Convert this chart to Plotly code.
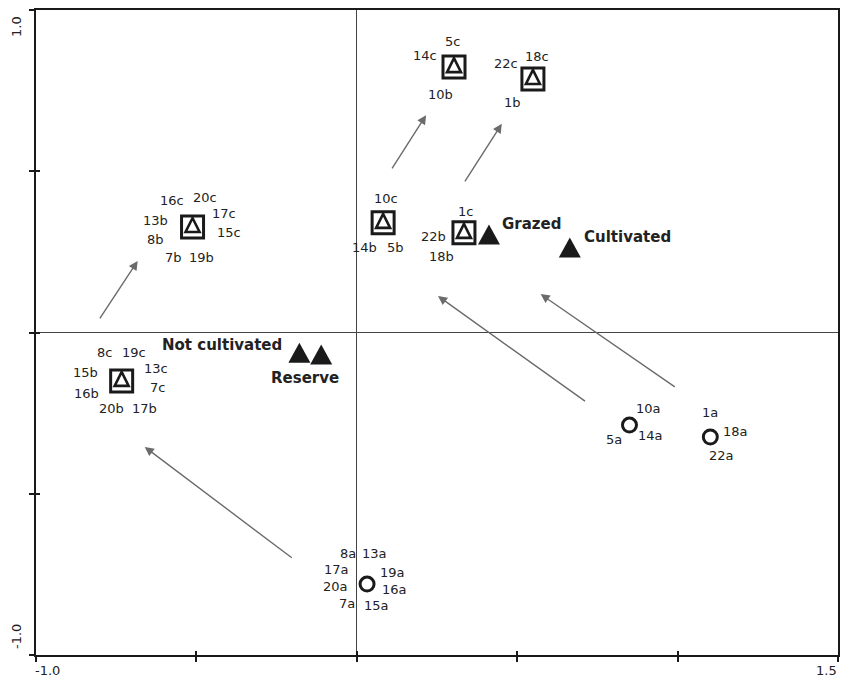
import plotly.graph_objects as go

# Site centroids (axis 1, axis 2) for the three sampling periods
sq_x = [0.303, 0.549, 0.082, 0.334, -0.512, -0.733]
sq_y = [0.823, 0.786, 0.340, 0.309, 0.327, -0.150]
sq_labels = [
    ["5c", "14c", "10b"],
    ["22c", "18c", "1b"],
    ["10c", "14b", "5b"],
    ["1c", "22b", "18b"],
    ["16c", "20c", "17c", "15c", "13b", "8b", "7b", "19b"],
    ["8c", "19c", "13c", "7c", "15b", "16b", "20b", "17b"],
]

circ_x = [0.850, 1.102, 0.032]
circ_y = [-0.287, -0.324, -0.780]
circ_labels = [
    ["10a", "14a", "5a"],
    ["1a", "18a", "22a"],
    ["8a", "13a", "17a", "20a", "7a", "19a", "16a", "15a"],
]

# Management factors
fac_names = ["Grazed", "Cultivated", "Not cultivated", "Reserve"]
fac_x = [0.412, 0.664, -0.179, -0.111]
fac_y = [0.302, 0.262, -0.064, -0.070]

# Trajectory arrows (tail -> head)
arr_x0 = [0.107, 0.334, -0.804, 0.716, 0.996, -0.198]
arr_y0 = [0.504, 0.464, 0.039, -0.216, -0.172, -0.702]
arr_x1 = [0.216, 0.452, -0.683, 0.253, 0.573, -0.661]
arr_y1 = [0.674, 0.647, 0.222, 0.113, 0.119, -0.355]

x_ticks = [-1.0, -0.5, 0.0, 0.5, 1.0, 1.5]
y_ticks = [-1.0, -0.5, 0.0, 0.5, 1.0]

# Pixel offsets of the site labels around each symbol
sq_offsets = [
    [(-2, 26), (-29, 12), (-14, -27)],
    [(-27, 16), (4, 23), (-20, -23)],
    [(3, 24), (-19, -25), (12, -25)],
    [(2, 21), (-30, -4), (-22, -24)],
    [(-21, 27), (12, 30), (31, 14), (36, -5), (-37, 7), (-37, -12), (-19, -30), (9, -30)],
    [(-17, 28), (12, 28), (34, 12), (36, -7), (-36, 8), (-35, -13), (-10, -28), (23, -28)],
]
circ_offsets = [
    [(19, 17), (21, -10), (-15, -14)],
    [(0, 24), (25, 5), (11, -19)],
    [(-19, 31), (7, 31), (-31, 15), (-32, -2), (-20, -19), (25, 12), (27, -5), (9, -21)],
]
fac_offsets = [(43, 11), (58, 11), (-77, 8), (-16, -23)]

FONT = "DejaVu Sans, Arial, sans-serif"
INK = "#1a1a1a"
TXT = "#222222"

# Triangle outlines in pixels around an anchor point (y up)
FILLED_TRI = "M-11,-9.5 L11,-9.5 L0,10.5 Z"
OPEN_TRI = "M-7,-5 L7,-5 L0,9 Z"

fig = go.Figure()

fig.add_trace(go.Scatter(
    x=sq_x, y=sq_y, mode="markers", hoverinfo="skip",
    marker=dict(symbol="square-open", size=22, color=INK, line=dict(width=3, color=INK)),
))
fig.add_trace(go.Scatter(
    x=circ_x, y=circ_y, mode="markers", hoverinfo="skip",
    marker=dict(symbol="circle-open", size=14, color=INK, line=dict(width=3, color=INK)),
))
# Empty trace that carries the overlaid axes used for the inner tick marks
fig.add_trace(go.Scatter(x=[], y=[], xaxis="x2", yaxis="y2", hoverinfo="skip"))

shapes = []
for x, y in zip(sq_x, sq_y):
    shapes.append(dict(
        type="path", xref="x", yref="y", xsizemode="pixel", ysizemode="pixel",
        xanchor=x, yanchor=y, path=OPEN_TRI, line=dict(color=INK, width=2.6),
        fillcolor="rgba(0,0,0,0)",
    ))
for x, y in zip(fac_x, fac_y):
    shapes.append(dict(
        type="path", xref="x", yref="y", xsizemode="pixel", ysizemode="pixel",
        xanchor=x, yanchor=y, path=FILLED_TRI, line=dict(width=0),
        fillcolor=INK,
    ))

annotations = []

for x0, y0, x1, y1 in zip(arr_x0, arr_y0, arr_x1, arr_y1):
    annotations.append(dict(
        x=x1, y=y1, ax=x0, ay=y0, xref="x", yref="y", axref="x", ayref="y",
        text="", showarrow=True, arrowhead=2, arrowsize=1.3, arrowwidth=1.4,
        arrowcolor="#6b6b6b", standoff=0,
    ))


def site_labels(xs, ys, groups, offsets):
    for x, y, names, offs in zip(xs, ys, groups, offsets):
        for name, (dx, dy) in zip(names, offs):
            annotations.append(dict(
                x=x, y=y, xref="x", yref="y", text=name, showarrow=False,
                xshift=dx, yshift=dy, font=dict(family=FONT, size=13, color=TXT),
            ))


site_labels(sq_x, sq_y, sq_labels, sq_offsets)
site_labels(circ_x, circ_y, circ_labels, circ_offsets)

for name, x, y, (dx, dy) in zip(fac_names, fac_x, fac_y, fac_offsets):
    annotations.append(dict(
        x=x, y=y, xref="x", yref="y", text="<b>%s</b>" % name, showarrow=False,
        xshift=dx, yshift=dy, font=dict(family=FONT, size=15, color=TXT),
    ))

# End-of-axis tick labels
tick_font = dict(family=FONT, size=13, color=TXT)
annotations += [
    dict(x=x_ticks[0], y=0, xref="x", yref="paper", text="%.1f" % x_ticks[0], showarrow=False,
         xanchor="left", yanchor="top", xshift=-3, yshift=-6, font=tick_font),
    dict(x=x_ticks[-1], y=0, xref="x", yref="paper", text="%.1f" % x_ticks[-1], showarrow=False,
         xanchor="right", yanchor="top", xshift=1, yshift=-6, font=tick_font),
    dict(x=0, y=y_ticks[-1], xref="paper", yref="y", text="%.1f" % y_ticks[-1], showarrow=False,
         textangle=-90, xanchor="right", yanchor="top", xshift=-10, yshift=-4, font=tick_font),
    dict(x=0, y=y_ticks[0], xref="paper", yref="y", text="%.1f" % y_ticks[0], showarrow=False,
         textangle=-90, xanchor="right", yanchor="bottom", xshift=-10, yshift=4, font=tick_font),
]

axis_common = dict(
    showgrid=False, zeroline=True, zerolinecolor="#444444", zerolinewidth=1.2,
    showline=True, linecolor=INK, linewidth=2, mirror=True,
    ticks="outside", ticklen=5, tickwidth=1.5, tickcolor=INK,
    showticklabels=False, fixedrange=True,
)
inner_ticks = dict(
    showgrid=False, zeroline=False, showline=False, showticklabels=False,
    ticks="inside", ticklen=4, tickwidth=1.5, tickcolor=INK, fixedrange=True,
)

fig.update_layout(
    width=841, height=678,
    margin=dict(l=36, r=1, t=10, b=23),
    paper_bgcolor="white", plot_bgcolor="white",
    showlegend=False,
    xaxis=dict(range=[x_ticks[0], x_ticks[-1]], tickvals=x_ticks, **axis_common),
    yaxis=dict(range=[y_ticks[0], y_ticks[-1]], tickvals=y_ticks, **axis_common),
    xaxis2=dict(range=[x_ticks[0], x_ticks[-1]], tickvals=x_ticks, overlaying="x",
                side="bottom", anchor="y2", **inner_ticks),
    yaxis2=dict(range=[y_ticks[0], y_ticks[-1]], tickvals=y_ticks, overlaying="y",
                side="left", anchor="x2", **inner_ticks),
    shapes=shapes,
    annotations=annotations,
)

fig.write_html("out.html")
